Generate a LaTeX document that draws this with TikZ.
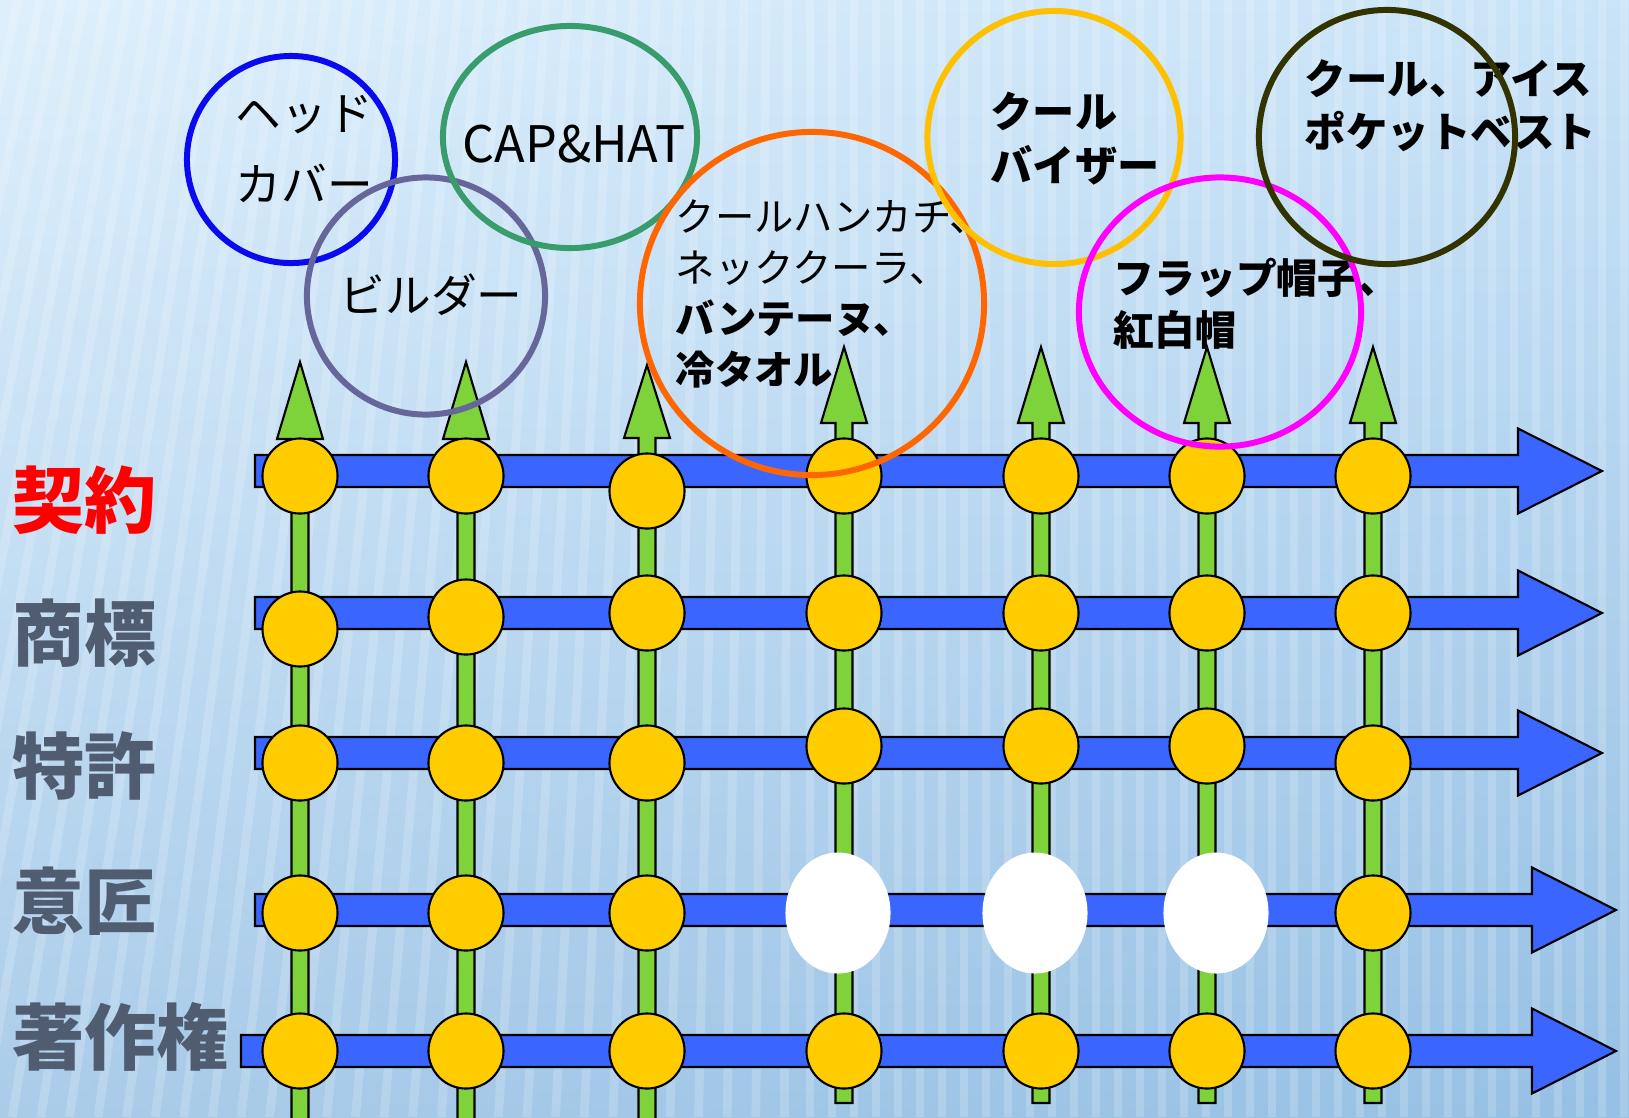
\documentclass[tikz,border=0pt]{standalone}
\usepackage{fontspec}
\setmainfont{Noto Sans CJK JP}
\usetikzlibrary{shapes.geometric}

\definecolor{barblue}{RGB}{58,102,255}
\definecolor{dotyellow}{RGB}{255,204,0}
\definecolor{colgreen}{RGB}{126,210,58}
\definecolor{labgray}{RGB}{80,92,112}
\definecolor{bgtop}{RGB}{214,236,252}
\definecolor{bgbot}{RGB}{150,192,228}
\definecolor{ringblue}{RGB}{10,10,240}
\definecolor{ringgray}{RGB}{102,102,154}
\definecolor{ringgreen}{RGB}{56,156,108}
\definecolor{ringorange}{RGB}{255,102,0}
\definecolor{ringyellow}{RGB}{255,192,0}
\definecolor{ringpink}{RGB}{255,0,255}
\definecolor{ringdark}{RGB}{51,51,0}

\tikzset{
  ydot/.style={circle, draw=black, fill=dotyellow, line width=0.6pt, minimum size=0.75cm, inner sep=0pt},
  wdot/.style={ellipse, fill=white, minimum width=1.05cm, minimum height=1.21cm, inner sep=0pt},
  ring/.style={ellipse, draw=#1, line width=1.7pt, inner sep=0pt},
  rowarrow/.style={draw=black, fill=barblue, line width=0.6pt},
  colarrow/.style={draw=black, fill=colgreen, line width=0.6pt},
  rowlabel/.style={font=\bfseries\fontsize{20.5}{24}\selectfont, anchor=west, inner sep=0pt, text=labgray},
  itemtext/.style={font=\fontsize{11.2}{14.5}\selectfont, align=left, anchor=west, inner sep=0pt},
}

\begin{document}
\begin{tikzpicture}[x=0.01cm, y=-0.01cm]
  \useasboundingbox (0,0) rectangle (1629,1117);
  \shade[top color=bgtop, bottom color=bgbot] (0,0) rectangle (1629,1117);
  \shade[left color=white, right color=bgbot, opacity=0.2] (0,0) rectangle (1629,1117);
  \begin{scope}
    \clip (0,0) rectangle (1629,1117);
    \foreach \sx in {-400,-378,...,1700}
      \draw[white, opacity=0.18, line width=2.5pt] (\sx,0) -- ({\sx-max(0,0.3*(800-\sx))},1117);
  \end{scope}

  \foreach \cx/\yb/\hb/\tip in {300/1125/439/362, 466/1125/439/362, 647/1125/438/365,
      844/1103/423/347, 1041/1103/423/347, 1207/1103/423/347, 1373/1103/423/347}
    \draw[colarrow] (\cx-8.5,\yb) -- (\cx-8.5,\hb) -- (\cx-23,\hb) -- (\cx,\tip)
      -- (\cx+23,\hb) -- (\cx+8.5,\hb) -- (\cx+8.5,\yb) -- cycle;

  \foreach \yy/\lx/\hb/\tip in {471/255/1518/1602, 613/255/1518/1602, 753/255/1518/1602,
      910/255/1532/1616, 1051/241/1532/1616}
    \draw[rowarrow] (\lx,\yy-16) -- (\hb,\yy-16) -- (\hb,\yy-42.5) -- (\tip,\yy)
      -- (\hb,\yy+42.5) -- (\hb,\yy+16) -- (\lx,\yy+16) -- cycle;

  \node[ydot] (kei1) at (300,476) {};
  \node[ydot] (kei2) at (466,476) {};
  \node[ydot] (kei3) at (647,491) {};
  \node[ydot] (kei4) at (844,476) {};
  \node[ydot] (kei5) at (1041,476) {};
  \node[ydot] (kei6) at (1207,476) {};
  \node[ydot] (kei7) at (1373,476) {};

  \node[ydot] (sho1) at (300,629) {};
  \node[ydot] (sho2) at (466,617) {};
  \node[ydot] (sho3) at (647,613) {};
  \node[ydot] (sho4) at (844,613) {};
  \node[ydot] (sho5) at (1041,613) {};
  \node[ydot] (sho6) at (1207,613) {};
  \node[ydot] (sho7) at (1373,613) {};

  \node[ydot] (tok1) at (300,763) {};
  \node[ydot] (tok2) at (466,763) {};
  \node[ydot] (tok3) at (647,763) {};
  \node[ydot] (tok4) at (844,746) {};
  \node[ydot] (tok5) at (1041,746) {};
  \node[ydot] (tok6) at (1207,746) {};
  \node[ydot] (tok7) at (1373,763) {};

  \node[ydot] (ish1) at (300,913) {};
  \node[ydot] (ish2) at (466,913) {};
  \node[ydot] (ish3) at (647,913) {};
  \node[wdot] (ish4) at (838,913) {};
  \node[wdot] (ish5) at (1035,913) {};
  \node[wdot] (ish6) at (1216,913) {};
  \node[ydot] (ish7) at (1373,913) {};

  \node[ydot] (cho1) at (300,1051) {};
  \node[ydot] (cho2) at (466,1051) {};
  \node[ydot] (cho3) at (647,1051) {};
  \node[ydot] (cho4) at (844,1051) {};
  \node[ydot] (cho5) at (1041,1051) {};
  \node[ydot] (cho6) at (1207,1051) {};
  \node[ydot] (cho7) at (1373,1051) {};

  \node[rowlabel, text=red] (keiyaku) at (12,500) {契約};
  \node[rowlabel] (shohyo) at (12,633) {商標};
  \node[rowlabel] (tokkyo) at (12,766) {特許};
  \node[rowlabel] (isho) at (12,901) {意匠};
  \node[rowlabel] (chosaku) at (12,1037) {著作権};

  \node[itemtext, font=\fontsize{13}{20}\selectfont] (headcover) at (235,149) {ヘッド\\カバー};
  \node[inner sep=0pt, font=\fontsize{14.3}{18}\selectfont] (caphat) at (574,144) {CAP\&HAT};
  \node[inner sep=0pt, font=\fontsize{13}{16}\selectfont] (builder) at (431,295) {ビルダー};
  \node[itemtext] (coolgoods) at (675,294) {クールハンカチ、\\ネッククーラ、\\\textbf{バンテーヌ、}\\\textbf{冷タオル}};
  \node[itemtext, font=\bfseries\fontsize{12}{15.4}\selectfont] (visor) at (990,139) {クール\\バイザー};
  \node[itemtext, font=\bfseries\fontsize{11.8}{15.1}\selectfont] (vest) at (1304,106) {クール、アイス\\ポケットベスト};
  \node[itemtext, font=\bfseries\fontsize{11.6}{14.8}\selectfont] (flap) at (1113,304) {フラップ帽子、\\紅白帽};

  \node[ring=ringblue, minimum width=2.08cm, minimum height=2.07cm] (headring) at (291,159.5) {};
  \node[ring=ringgray, minimum width=2.38cm, minimum height=2.37cm] (builderring) at (426,296) {};
  \node[ring=ringgreen, minimum width=2.54cm, minimum height=2.22cm] (capring) at (570,137) {};
  \node[ring=ringorange, minimum width=3.44cm, minimum height=3.43cm] (coolring) at (812,303.5) {};
  \node[ring=ringyellow, minimum width=2.53cm, minimum height=2.53cm] (visorring) at (1054,137.5) {};
  \node[ring=ringpink, minimum width=2.82cm, minimum height=2.69cm] (flapring) at (1220,312) {};
  \node[ring=ringdark, minimum width=2.56cm, minimum height=2.54cm] (vestring) at (1387,137) {};
\end{tikzpicture}
\end{document}
